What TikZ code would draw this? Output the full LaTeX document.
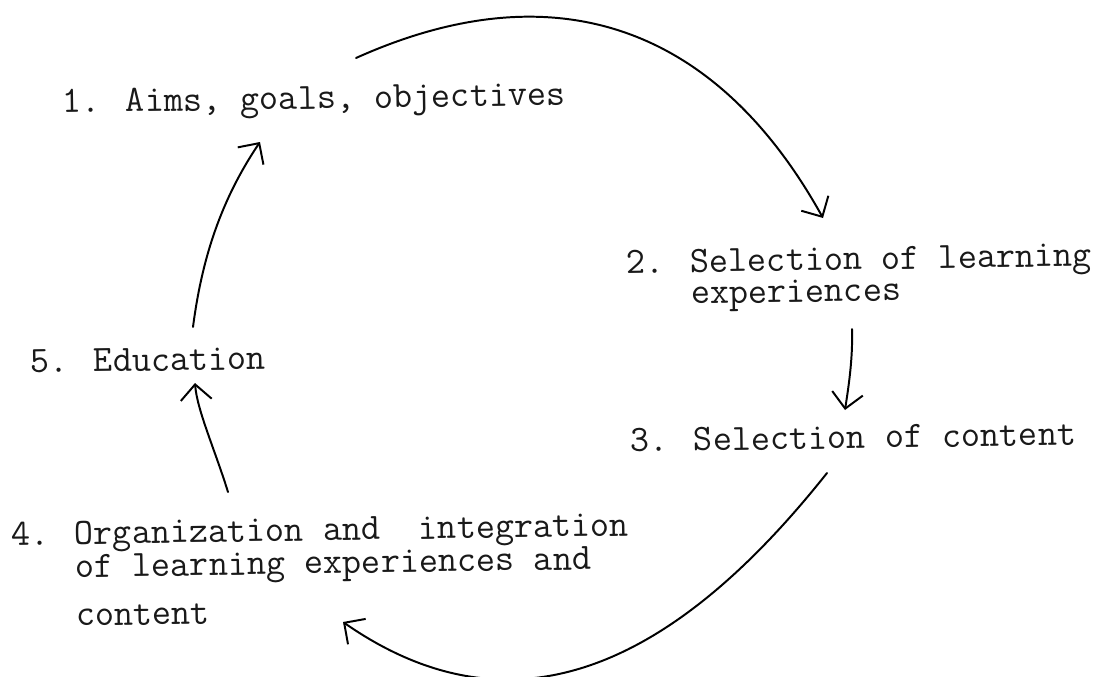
\documentclass[tikz,border=0pt]{standalone}
\usepackage{fontspec}
\usetikzlibrary{arrows.meta}

\begin{document}
\begin{tikzpicture}[
    x=0.025cm, y=-0.025cm,
    stage/.style={anchor=base west, inner sep=0pt, rotate=0.9, text=black!90, align=left,
        font=\fontsize{26.4pt}{22.5pt}\selectfont\ttfamily},
    ptr/.style={-{Straight Barb[length=11pt,width=22pt]}, line width=1.4pt, line cap=round}
]
    \useasboundingbox (0,0) rectangle (1094,677);

    % Stages (base = last line)
    \node[stage] (s1) at (62,113) {1. Aims, goals, objectives};
    \node[stage] (s2) at (627,305) {2. Selection of learning\\
        \phantom{2. }experiences};
    \node[stage] (s3) at (630,452) {3. Selection of content};
    \node[stage] (s4) at (12,627) {4. Organization and\ \ integration\\
        \phantom{4. }of learning experiences and\\[10.9pt]
        \phantom{4. }content};
    \node[stage] (s5) at (30,373) {5. Education};

    % Arrow ends
    \coordinate (s1out) at (356,58);
    \coordinate (s2in) at (823,218);
    \coordinate (s2out) at (852,329);
    \coordinate (s3in) at (845,410);
    \coordinate (s3out) at (827,473);
    \coordinate (s4in) at (343,622);
    \coordinate (s4out) at (228,492);
    \coordinate (s5in) at (195,383);
    \coordinate (s5out) at (193,327);
    \coordinate (s1in) at (260,142);

    % Cycle
    \draw[ptr] (s1out) .. controls (556,-32) and (717,27) .. (s2in);
    \draw[ptr] (s2out) .. controls (853,360) and (848,390) .. (s3in);
    \draw[ptr] (s3out) .. controls (666,676) and (507,736) .. (s4in);
    \draw[ptr] (s4out) .. controls (215,450) and (197,410) .. (s5in);
    \draw[ptr] (s5out) .. controls (202,258) and (221,200) .. (s1in);
\end{tikzpicture}
\end{document}
